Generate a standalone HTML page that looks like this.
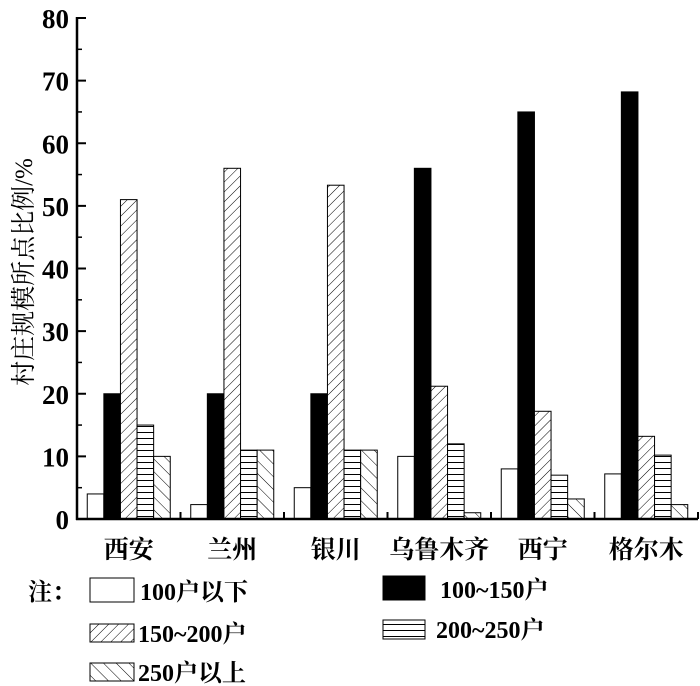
<!DOCTYPE html>
<html><head><meta charset="utf-8">
<style>
html,body{margin:0;padding:0;background:#fff;}
svg{display:block;font-family:"Liberation Serif","Noto Serif CJK SC",serif;}
</style></head>
<body>
<svg id="chart" width="700" height="686" viewBox="0 0 700 686">
<defs>
<pattern id="p-fwd" patternUnits="userSpaceOnUse" width="7" height="7" patternTransform="rotate(45)">
<rect width="7" height="7" fill="#fff"/><line x1="0" y1="0" x2="0" y2="7" stroke="#000" stroke-width="1"/></pattern>
<pattern id="p-back" patternUnits="userSpaceOnUse" width="9" height="9" patternTransform="rotate(-45)">
<rect width="9" height="9" fill="#fff"/><line x1="0" y1="0" x2="0" y2="9" stroke="#000" stroke-width="1"/></pattern>
<pattern id="p-horiz" patternUnits="userSpaceOnUse" width="6" height="6">
<rect width="6" height="6" fill="#fff"/><line x1="0" y1="0.5" x2="6" y2="0.5" stroke="#000" stroke-width="1"/></pattern>
</defs>
<g id="plot"></g>
</svg>
<script>
const categories = ["西安","兰州","银川","乌鲁木齐","西宁","格尔木"];
const seriesNames = ["100户以下","100~150户","150~200户","200~250户","250户以上"];
const s1 = [4, 2.3, 5, 10, 8, 7.2];
const s2 = [20, 20, 20, 56, 65, 68.2];
const s3 = [51, 56, 53.3, 21.2, 17.2, 13.2];
const s4 = [15, 11, 11, 12, 7, 10.2];
const s5 = [10, 11, 11, 1, 3.2, 2.3];
const yTicks = [0,10,20,30,40,50,60,70,80];

const series = [s1,s2,s3,s4,s5];
const fills = ["#fff","#000","url(#p-fwd)","url(#p-horiz)","url(#p-back)"];
const NS = "http://www.w3.org/2000/svg";
const g = document.getElementById("plot");
const x0 = 77, x1 = 698, yBase = 519, yTop = 18, yMax = 80;
const groupW = (x1 - x0) / categories.length;
const barW = 16.6, pad = (groupW - barW * series.length) / 2;
const yScale = v => yBase - (v / yMax) * (yBase - yTop);
const xBar = (ci, si) => x0 + ci * groupW + pad + si * barW;
function mk(tag, attrs, parent){const e=document.createElementNS(NS,tag);for(const k in attrs)e.setAttribute(k,attrs[k]);(parent||g).appendChild(e);return e;}

series.forEach((arr, si) => {
  arr.forEach((v, ci) => {
    const r = mk("rect",{x:xBar(ci,si),y:yScale(v),width:barW,height:yBase-yScale(v),fill:fills[si],stroke:"#000","stroke-width":1});
    
    
  });
});
const ya = mk("line",{x1:x0,y1:yTop-1,x2:x0,y2:yBase+1,stroke:"#000","stroke-width":2.5});


const xa = mk("line",{x1:x0-1,y1:yBase,x2:x1,y2:yBase,stroke:"#000","stroke-width":2.5});


yTicks.forEach(t => {
  const y = yScale(t);
  mk("line",{x1:x0,y1:y,x2:x0+9,y2:y,stroke:"#000","stroke-width":2});
  if (t < yMax) { const ym = yScale(t+5); mk("line",{x1:x0,y1:ym,x2:x0+5,y2:ym,stroke:"#000","stroke-width":1.5}); }
  const tx = mk("text",{x:x0-8,y:y+10,"text-anchor":"end","font-size":27,"font-weight":"bold"});
  tx.textContent = t;
  
  
});
categories.forEach((c, ci) => {
  const xb = x0 + (ci+1) * groupW;
  mk("line",{x1:xb,y1:yBase,x2:xb,y2:yBase-7,stroke:"#000","stroke-width":2});
  const tx = mk("text",{x:x0+ci*groupW+groupW/2,y:558,"text-anchor":"middle","font-size":25,"font-weight":"bold"});
  tx.textContent = c;
  
  
});
const yt = mk("text",{x:0,y:0,"text-anchor":"middle","font-size":25,transform:"translate(32,272) rotate(-90)"});
yt.textContent = "村庄规模所点比例/%";


const note = mk("text",{x:28,y:600,"font-size":24,"font-weight":"bold"});
note.textContent = "注：";


const legPos = [[90,578,44,24,140,600],[383,576,42,24,440,598],[90,624,44,18,138,642],[383,620,42,19,436,638],[90,663,44,18,138,681]];
seriesNames.forEach((n, si) => {
  const p = legPos[si];
  const r = mk("rect",{x:p[0],y:p[1],width:p[2],height:p[3],fill:fills[si],stroke:"#000","stroke-width":1});
  
  
  const t = mk("text",{x:p[4],y:p[5],"font-size":24,"font-weight":"bold"});
  t.textContent = n;
  
  
});
</script>
</body></html>
